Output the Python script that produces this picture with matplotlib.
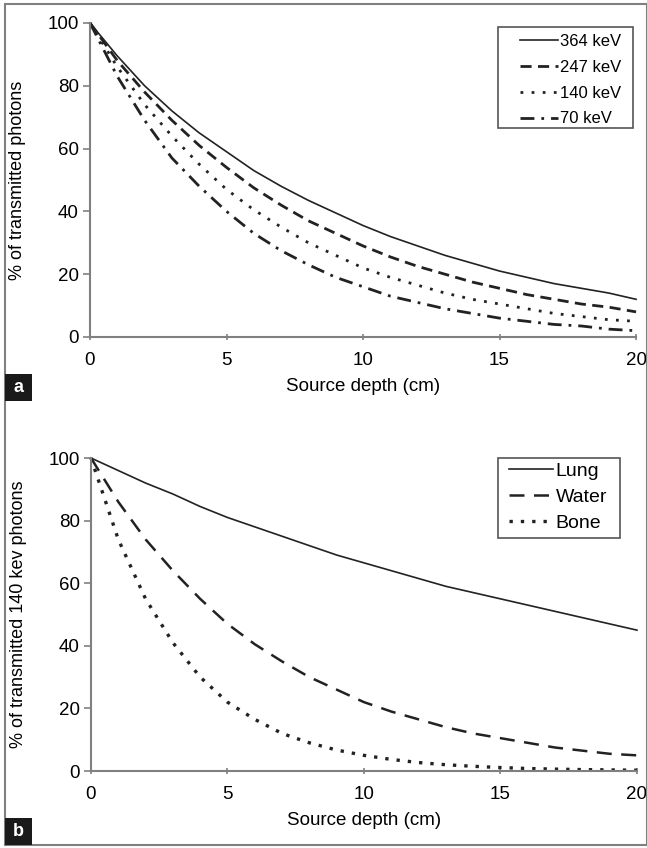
import numpy as np
import matplotlib.pyplot as plt
from matplotlib.patches import Rectangle

plt.rcParams['font.family'] = ['Liberation Sans', 'DejaVu Sans']

# profundidade da fonte (cm)
prof = np.arange(0, 21)

# (a) fotões transmitidos em água, por energia
t364 = [100, 89.5, 80, 72, 65, 59, 53, 48, 43.5, 39.5, 35.5, 32, 29, 26, 23.5, 21, 19, 17, 15.5, 14, 12]
t247 = [100, 88, 78, 69, 61, 54, 47.5, 42, 37, 33, 29, 25.5, 22.5, 20, 17.5, 15.5, 13.5, 12, 10.5, 9.5, 8]
t140 = [100, 86, 74, 64, 55, 47, 40.5, 35, 30, 26, 22, 19, 16.5, 14, 12, 10.5, 9, 7.5, 6.5, 5.5, 5]
t70 = [100, 83, 69, 57, 48, 40, 33, 27.5, 23, 19, 16, 13, 11, 9, 7.5, 6, 5, 4, 3.5, 2.5, 2]

# (b) fotões de 140 keV transmitidos, por tecido
pulmao = [100, 96, 92, 88.5, 84.5, 81, 78, 75, 72, 69, 66.5, 64, 61.5, 59, 57, 55, 53, 51, 49, 47, 45]
agua = [100, 86, 74, 64, 55, 47, 40.5, 35, 30, 26, 22, 19, 16.5, 14, 12, 10.5, 9, 7.5, 6.5, 5.5, 5]
osso = [100, 74, 55, 41, 30, 22, 16.5, 12, 9, 6.7, 5, 3.7, 2.7, 2, 1.5, 1.1, 0.8, 0.6, 0.45, 0.35, 0.25]

cor = '#222222'
cinza = '#808080'
fs = 13.5

fig = plt.figure(figsize=(6.47, 8.48), dpi=100)


def formatar(ax, ylabel):
    ax.set_xlim(0, 20)
    ax.set_ylim(0, 100)
    ax.set_xticks([0, 5, 10, 15, 20])
    ax.set_yticks([0, 20, 40, 60, 80, 100])
    for s in ['top', 'right']:
        ax.spines[s].set_visible(False)
    for s in ['left', 'bottom']:
        ax.spines[s].set_color(cinza)
        ax.spines[s].set_linewidth(1.5)
    ax.tick_params(axis='y', direction='out', length=5, color=cinza, width=1.2,
                   labelsize=fs, pad=3)
    ax.tick_params(axis='x', direction='inout', length=5, color=cinza, width=1.2,
                   labelsize=fs, pad=8)
    ax.set_xlabel('Source depth (cm)', fontsize=fs, labelpad=7)
    ax.set_ylabel(ylabel, fontsize=13)
    ax.yaxis.set_label_coords(-0.118, 0.5)
    ax.patch.set_alpha(0)


def legenda(ax, ancora, caixa, tam, espaco):
    # legenda sem moldura + moldura desenhada à parte (margens laterais largas)
    lg = ax.legend(loc='upper left', bbox_to_anchor=ancora, fontsize=tam,
                   frameon=False, handlelength=2.25, labelspacing=espaco,
                   borderpad=0, handletextpad=0.15, borderaxespad=0)
    x0, y0, x1, y1 = caixa
    ax.add_patch(Rectangle((x0, y0), x1 - x0, y1 - y0, transform=ax.transAxes,
                           fill=False, edgecolor='#555555', lw=1.2, clip_on=False))
    return lg


axa = fig.add_axes([0.1391, 0.6026, 0.844, 0.3703])
axa.plot(prof, t364, color=cor, lw=1.2, label='364 keV', clip_on=False)
axa.plot(prof, t247, color=cor, lw=2, dashes=(4, 2.3), label='247 keV', clip_on=False)
axa.plot(prof, t140, color=cor, lw=2, dashes=(1, 3), label='140 keV', clip_on=False)
axa.plot(prof, t70, color=cor, lw=2, dashes=(5, 2.5, 1, 2.5), label='70 keV', clip_on=False)
formatar(axa, '% of transmitted photons')
legenda(axa, (0.7875, 0.965), (0.747, 0.666, 0.9945, 0.987), 12, 0.65)

axb = fig.add_axes([0.1406, 0.0908, 0.8439, 0.3691])
axb.plot(prof, pulmao, color=cor, lw=1.2, label='Lung', clip_on=False)
axb.plot(prof, agua, color=cor, lw=1.8, dashes=(6, 3.8), label='Water', clip_on=False)
axb.plot(prof, osso, color=cor, lw=2.4, dashes=(1, 2.4), label='Bone', clip_on=False)
formatar(axb, '% of transmitted 140 kev photons')
legenda(axb, (0.7656, 0.9856), (0.7454, 0.7444, 0.9689, 1.0), 14, 0.42)

# moldura exterior e etiquetas dos painéis
fig.patches.append(Rectangle((5 / 647, 3 / 848), 1 - 5 / 647 - 0.5 / 647, 1 - 7 / 848,
                             transform=fig.transFigure, fill=False,
                             edgecolor=cinza, lw=1.5))
for letra, y0 in [('a', 1 - 401 / 848), ('b', 3 / 848)]:
    fig.patches.append(Rectangle((5 / 647, y0), 27 / 647, 27 / 848,
                                 transform=fig.transFigure, facecolor='#1a1a1a',
                                 edgecolor='none'))
    fig.text((5 + 13.5) / 647, y0 + 13.5 / 848, letra, color='white', fontsize=13,
             fontweight='bold', ha='center', va='center')

fig.savefig('out.png', dpi=100)
